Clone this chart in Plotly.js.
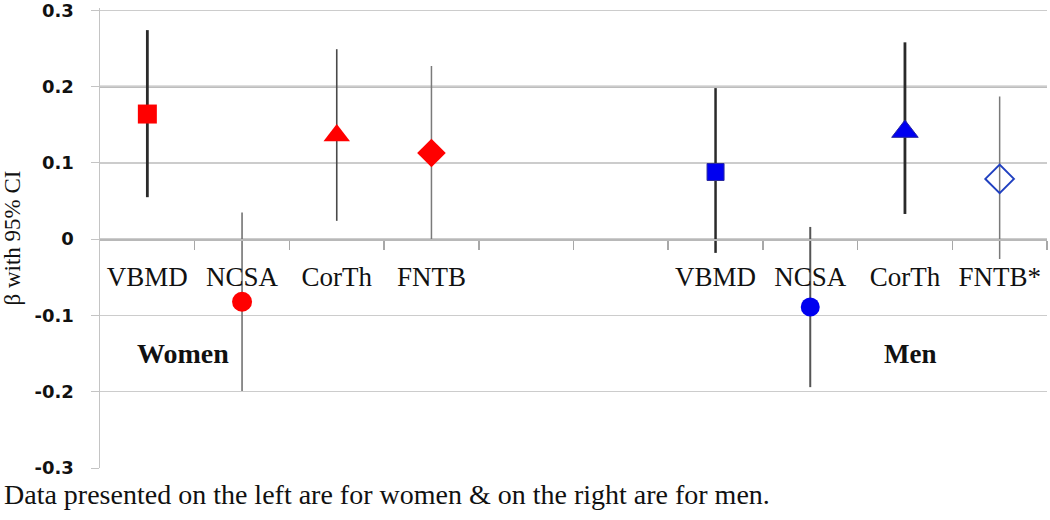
<!DOCTYPE html>
<html>
<head>
<meta charset="utf-8">
<script src="https://cdn.plot.ly/plotly-3.0.1.min.js"></script>
<style>
  html, body { margin: 0; padding: 0; background: #fff; }
  #chart { width: 1050px; height: 520px; }
</style>
</head>
<body>
<div id="chart"></div>
<script>
"use strict";

// category slots along x (5 and 6 are the empty gap between women and men)
var slots = [1, 2, 3, 4, 5, 6, 7, 8, 9, 10];
var slotLabels = ["VBMD", "NCSA", "CorTh", "FNTB", "", "", "VBMD", "NCSA", "CorTh", "FNTB*"];

// women (slots 1-4)
var womenX = [1, 2, 3, 4];
var womenBeta = [0.164, -0.082, 0.136, 0.113];
var womenUpper = [0.274, 0.035, 0.249, 0.227];
var womenLower = [0.055, -0.199, 0.024, -0.002];

// men (slots 7-10)
var menX = [7, 8, 9, 10];
var menBeta = [0.088, -0.089, 0.141, 0.079];
var menUpper = [0.198, 0.016, 0.258, 0.187];
var menLower = [-0.018, -0.194, 0.033, -0.026];

var yTicks = [0.3, 0.2, 0.1, 0, -0.1, -0.2, -0.3];
var yTickText = ["0.3", "0.2", "0.1", "0", "-0.1", "-0.2", "-0.3"];

var serif = "Liberation Serif, Times New Roman, serif";

function pointTrace(x, y, hi, lo, marker, barColor, barWidth){
    return {
        x: [x],
        y: [y],
        type: "scatter",
        mode: "markers",
        marker: marker,
        error_y: {
            type: "data",
            symmetric: false,
            array: [hi - y],
            arrayminus: [y - lo],
            color: barColor,
            thickness: barWidth,
            width: 0
        },
        showlegend: false,
        hoverinfo: "x+y"
    };
}

var red = "#ff0000";
var blue = "#0000f0";

var womenStyle = [
    {marker: {symbol: "square", size: 19, color: red}, bar: "#2a2a2a", w: 2.8},
    {marker: {symbol: "circle", size: 20, color: red}, bar: "#6a6a6a", w: 1.5},
    {marker: {symbol: "triangle-up", size: 23, color: red}, bar: "#4a4a4a", w: 1.6},
    {marker: {symbol: "diamond", size: 22, color: red}, bar: "#7a7a7a", w: 1.5}
];
var menStyle = [
    {marker: {symbol: "square", size: 17, color: blue, line: {color: "#2a2aa0", width: 1}}, bar: "#2a2a2a", w: 2.5},
    {marker: {symbol: "circle", size: 19, color: blue}, bar: "#555555", w: 2},
    {marker: {symbol: "triangle-up", size: 23, color: blue, line: {color: "#2a2aa0", width: 1}}, bar: "#2a2a2a", w: 2.8},
    {marker: {symbol: "diamond-open", size: 22, color: "#2040c0", line: {width: 2}}, bar: "#7a7a7a", w: 1.5}
];

var data = [];
for (var i = 0; i < womenX.length; i++){
    data.push(pointTrace(womenX[i], womenBeta[i], womenUpper[i], womenLower[i],
        womenStyle[i].marker, womenStyle[i].bar, womenStyle[i].w));
}
for (var j = 0; j < menX.length; j++){
    data.push(pointTrace(menX[j], menBeta[j], menUpper[j], menLower[j],
        menStyle[j].marker, menStyle[j].bar, menStyle[j].w));
}

// tick marks sit on the boundaries between slots
var boundaries = slots.map(function(s){ return s + 0.5; });

var layout = {
    width: 1050,
    height: 520,
    margin: {l: 100, r: 3, t: 8, b: 52},
    paper_bgcolor: "#ffffff",
    plot_bgcolor: "#ffffff",
    showlegend: false,
    xaxis: {
        range: [0.5, 10.5],
        tickmode: "array",
        tickvals: slots,
        ticktext: slotLabels,
        ticks: "",
        ticklabelstandoff: 13,
        tickfont: {family: serif, size: 27, color: "#111111"},
        showgrid: false,
        zeroline: false,
        showline: true,
        linecolor: "#b8b8b8",
        linewidth: 1.5,
        anchor: "free",
        position: 0.4975,
        automargin: false,
        minor: {
            tickmode: "array",
            tickvals: boundaries,
            ticks: "outside",
            ticklen: 9,
            tickcolor: "#a8a8a8",
            tickwidth: 1.5,
            showgrid: false
        }
    },
    yaxis: {
        range: [-0.3, 0.303],
        tickmode: "array",
        tickvals: yTicks,
        ticktext: yTickText,
        ticks: "outside",
        ticklen: 8,
        tickcolor: "#c4c4c4",
        ticklabelstandoff: 13,
        ticklabeloverflow: "allow",
        tickfont: {family: "DejaVu Sans, sans-serif", size: 18, weight: "bold", color: "#111111"},
        showgrid: true,
        gridcolor: "#cccccc",
        gridwidth: 1.5,
        zeroline: false,
        showline: true,
        linecolor: "#c4c4c4",
        linewidth: 1.5,
        automargin: false,
        title: {
            text: "β with 95% CI",
            font: {family: serif, size: 23, color: "#111111"},
            standoff: 10
        }
    },
    shapes: [{
        type: "line", xref: "paper", yref: "y",
        x0: 0, x1: 1, y0: 0.2, y1: 0.2,
        line: {color: "#7c7c7c", width: 1.8},
        layer: "between"
    }],
    annotations: [
        {
            x: 1.38, y: -0.15, xref: "x", yref: "y",
            text: "<b>Women</b>", showarrow: false,
            font: {family: serif, size: 28, color: "#111111"}
        },
        {
            x: 9.05, y: -0.15, xref: "x", yref: "y",
            text: "<b>Men</b>", showarrow: false,
            font: {family: serif, size: 27, color: "#111111"}
        },
        {
            x: -0.104, y: -0.058, xref: "paper", yref: "paper",
            xanchor: "left", yanchor: "middle",
            text: "Data presented on the left are for women &amp; on the right are for men.",
            showarrow: false,
            font: {family: serif, size: 28, color: "#111111"}
        }
    ]
};

Plotly.newPlot("chart", data, layout, {displayModeBar: false, staticPlot: true});
</script>
</body>
</html>
